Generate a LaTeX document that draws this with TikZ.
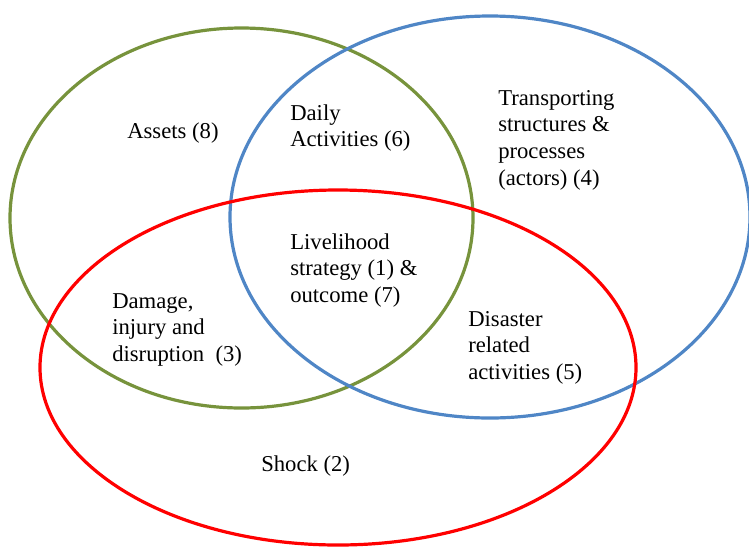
\documentclass[tikz,border=0pt]{standalone}
\usepackage{fontspec}
\setmainfont{Liberation Serif}
\definecolor{ringgreen}{HTML}{77933C}
\definecolor{ringblue}{HTML}{4F86C6}
\definecolor{ringred}{HTML}{FF0000}
\begin{document}
\begin{tikzpicture}[x=0.75pt,y=-0.75pt,
  ring/.style={line width=2.4pt},
  lbl/.style={anchor=north west,inner sep=0pt,align=left,
    font=\fontsize{17pt}{20pt}\selectfont}]
\useasboundingbox (0,0) rectangle (749,547);
% three overlapping sets
\draw[ring,ringgreen] (241.5,218) ellipse [x radius=231.5,y radius=190];
\draw[ring,ringblue] (490,217) ellipse [x radius=260,y radius=201];
\draw[ring,ringred] (338,367.5) ellipse [x radius=298,y radius=177.5];
% region labels
\node[lbl] (assets) at (127,123) {Assets (8)};
\node[lbl] (daily) at (290,104) {Daily\\Activities (6)};
\node[lbl] (transport) at (498,90) {Transporting\\structures \&\\processes\\(actors) (4)};
\node[lbl] (livelihood) at (290,233) {Livelihood\\strategy (1) \&\\outcome (7)};
\node[lbl] (damage) at (112,293) {Damage,\\injury and\\disruption~~(3)};
\node[lbl] (disaster) at (468,311) {Disaster\\related\\activities (5)};
\node[lbl] (shock) at (261,455) {Shock (2)};
\end{tikzpicture}
\end{document}
